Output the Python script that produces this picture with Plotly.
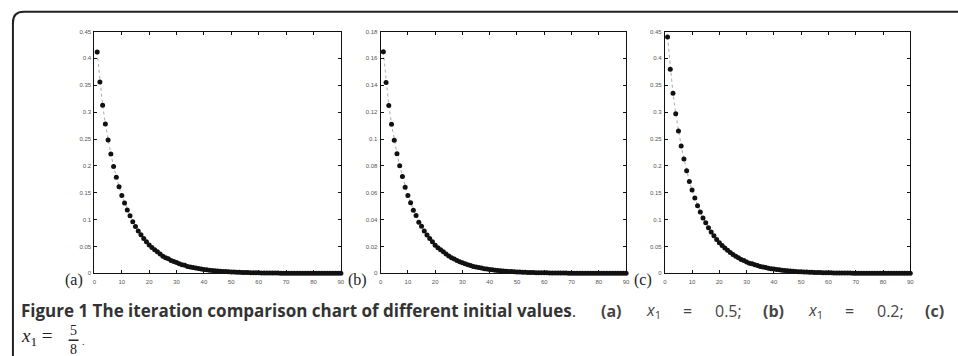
import plotly.graph_objects as go

# ---- data ----
series_a = [0.412, 0.356, 0.313, 0.278, 0.248, 0.222, 0.199, 0.179, 0.161, 0.145,
            0.131, 0.118, 0.107, 0.096, 0.087, 0.079, 0.072, 0.065, 0.059, 0.053,
            0.048, 0.044, 0.040, 0.036, 0.032, 0.029, 0.027, 0.024, 0.022, 0.020,
            0.018, 0.016, 0.015, 0.013, 0.012, 0.011, 0.010, 0.009, 0.008, 0.0073,
            0.0066, 0.0060, 0.0054, 0.0049, 0.0044, 0.0040, 0.0036, 0.0033, 0.0030, 0.0027,
            0.0024, 0.0022, 0.0020, 0.0018, 0.0016, 0.0015, 0.0013, 0.0012, 0.0011, 0.0010,
            0.0009, 0.0008, 0.0007, 0.0007, 0.0006, 0.0005, 0.0005, 0.0004, 0.0004, 0.0003,
            0.0003, 0.0003, 0.0002, 0.0002, 0.0002, 0.0002, 0.0001, 0.0001, 0.0001, 0.0001,
            0.0001, 0.0001, 0.0001, 0.0001, 0.0001, 0.0001, 0.0000, 0.0000, 0.0000, 0.0000]
series_b = [0.165, 0.142, 0.125, 0.111, 0.099, 0.089, 0.080, 0.072, 0.064, 0.058,
            0.0525, 0.047, 0.043, 0.038, 0.035, 0.0315, 0.0285, 0.026, 0.0235, 0.021,
            0.019, 0.0175, 0.016, 0.0144, 0.013, 0.0117, 0.0106, 0.0096, 0.0087, 0.0079,
            0.0071, 0.0064, 0.0058, 0.0052, 0.0047, 0.0043, 0.0039, 0.0035, 0.0032, 0.0029,
            0.0026, 0.0024, 0.0021, 0.0019, 0.0017, 0.0016, 0.0014, 0.0013, 0.0012, 0.0011,
            0.0010, 0.0009, 0.0008, 0.0007, 0.0007, 0.0006, 0.0005, 0.0005, 0.0004, 0.0004,
            0.0004, 0.0003, 0.0003, 0.0003, 0.0002, 0.0002, 0.0002, 0.0002, 0.0001, 0.0001,
            0.0001, 0.0001, 0.0001, 0.0001, 0.0001, 0.0001, 0.0001, 0.0000, 0.0000, 0.0000,
            0.0000, 0.0000, 0.0000, 0.0000, 0.0000, 0.0000, 0.0000, 0.0000, 0.0000, 0.0000]
series_c = [0.440, 0.380, 0.335, 0.297, 0.265, 0.237, 0.213, 0.191, 0.171, 0.155,
            0.140, 0.126, 0.114, 0.103, 0.094, 0.085, 0.077, 0.070, 0.063, 0.057,
            0.052, 0.047, 0.043, 0.039, 0.035, 0.032, 0.029, 0.026, 0.024, 0.021,
            0.019, 0.018, 0.016, 0.0145, 0.013, 0.012, 0.0107, 0.0097, 0.0088, 0.0080,
            0.0072, 0.0065, 0.0059, 0.0053, 0.0048, 0.0044, 0.0040, 0.0036, 0.0032, 0.0029,
            0.0026, 0.0024, 0.0022, 0.0020, 0.0018, 0.0016, 0.0014, 0.0013, 0.0012, 0.0011,
            0.0010, 0.0009, 0.0008, 0.0007, 0.0007, 0.0006, 0.0005, 0.0005, 0.0004, 0.0004,
            0.0003, 0.0003, 0.0003, 0.0002, 0.0002, 0.0002, 0.0002, 0.0001, 0.0001, 0.0001,
            0.0001, 0.0001, 0.0001, 0.0001, 0.0001, 0.0001, 0.0000, 0.0000, 0.0000, 0.0000]
panel_labels = ["(a)", "(b)", "(c)"]
y_ranges = [[0, 0.45], [0, 0.18], [0, 0.45]]
y_dticks = [0.05, 0.02, 0.05]
x_ticks = [0, 10, 20, 30, 40, 50, 60, 70, 80, 90]
caption_bold = "Figure 1 The iteration comparison chart of different initial values"
caption_tokens = ["<b>(a)</b>", "<i>x</i><sub>1</sub>", "=", "0.5;",
                  "<b>(b)</b>", "<i>x</i><sub>1</sub>", "=", "0.2;", "<b>(c)</b>"]

W, H = 958, 356
def px(x):
    return x / W
def py(y):
    return 1 - y / H

x_domains = [[px(93), px(341)], [px(381), px(628)], [px(667), px(914)]]
y_domain = [py(275), py(29)]
label_x = [72, 358, 645]
token_x = [601, 646, 683, 715, 764, 809, 846, 878, 927]

fig = go.Figure()
all_series = [series_a, series_b, series_c]
for i, s in enumerate(all_series):
    n = i + 1
    xs = list(range(1, len(s) + 1))
    fig.add_trace(go.Scatter(
        x=xs, y=s, mode="lines+markers",
        line=dict(color="#aaaaaa", width=1, dash="dot"),
        marker=dict(color="#111111", size=5),
        cliponaxis=False, showlegend=False,
        xaxis="x" if n == 1 else f"x{n}", yaxis="y" if n == 1 else f"y{n}"))

axis_common = dict(showline=True, mirror="ticks", linecolor="#111", linewidth=1,
                   ticks="inside", ticklen=3, tickcolor="#111", tickwidth=1,
                   showgrid=False, zeroline=False,
                   tickfont=dict(family="Liberation Sans", size=6, color="#555"))
layout = dict(width=W, height=H, margin=dict(l=0, r=0, t=0, b=0),
              paper_bgcolor="white", plot_bgcolor="white")
for i in range(3):
    n = i + 1
    xk = "xaxis" if n == 1 else f"xaxis{n}"
    yk = "yaxis" if n == 1 else f"yaxis{n}"
    ya = "y" if n == 1 else f"y{n}"
    xa = "x" if n == 1 else f"x{n}"
    layout[xk] = dict(axis_common, domain=x_domains[i], range=[0, 90],
                      tickvals=x_ticks, anchor=ya, ticklabelstandoff=2)
    layout[yk] = dict(axis_common, domain=y_domain, range=y_ranges[i],
                      dtick=y_dticks[i], tick0=0, anchor=xa, ticklabelstandoff=1)
fig.update_layout(**layout)

# outer rounded frame
fig.add_shape(type="path", xref="paper", yref="paper",
              path=f"M {px(11)},{py(370)} L {px(11)},{py(20)} Q {px(11)},{py(9)} {px(22)},{py(9)} L {px(975)},{py(9)}",
              line=dict(color="#222", width=2))

for i, lab in enumerate(panel_labels):
    fig.add_annotation(text=lab, xref="paper", yref="paper", x=px(label_x[i]), y=py(282),
                       xanchor="center", yanchor="middle", showarrow=False,
                       font=dict(family="Liberation Serif", size=16, color="#222"))

fig.add_annotation(text=f"<b>{caption_bold}</b>.", xref="paper", yref="paper", x=px(17), y=py(313),
                   xanchor="left", yanchor="middle", showarrow=False,
                   font=dict(family="Open Sans", size=17, color="#333"))
for tx, tok in zip(token_x, caption_tokens):
    fig.add_annotation(text=tok, xref="paper", yref="paper", x=px(tx), y=py(313),
                       xanchor="left", yanchor="middle", showarrow=False,
                       font=dict(family="Open Sans", size=16, color="#444"))

fig.add_annotation(text="<i>x</i><sub>1</sub> =", xref="paper", yref="paper", x=px(17), y=py(340),
                   xanchor="left", yanchor="middle", showarrow=False,
                   font=dict(family="Liberation Serif", size=19, color="#222"))
fig.add_annotation(text="5", xref="paper", yref="paper", x=px(72), y=py(333),
                   xanchor="center", yanchor="middle", showarrow=False,
                   font=dict(family="Liberation Serif", size=14, color="#222"))
fig.add_annotation(text="8", xref="paper", yref="paper", x=px(72), y=py(352),
                   xanchor="center", yanchor="middle", showarrow=False,
                   font=dict(family="Liberation Serif", size=14, color="#222"))
fig.add_annotation(text=".", xref="paper", yref="paper", x=px(78), y=py(344),
                   xanchor="left", yanchor="middle", showarrow=False,
                   font=dict(family="Liberation Serif", size=10, color="#222"))
fig.add_shape(type="line", xref="paper", yref="paper", x0=px(67), x1=px(77), y0=py(343), y1=py(343),
              line=dict(color="#222", width=1.5))

fig.write_html("out.html", config={"displayModeBar": False},
               post_script="document.body.style.margin='0';document.body.style.overflow='hidden';")
